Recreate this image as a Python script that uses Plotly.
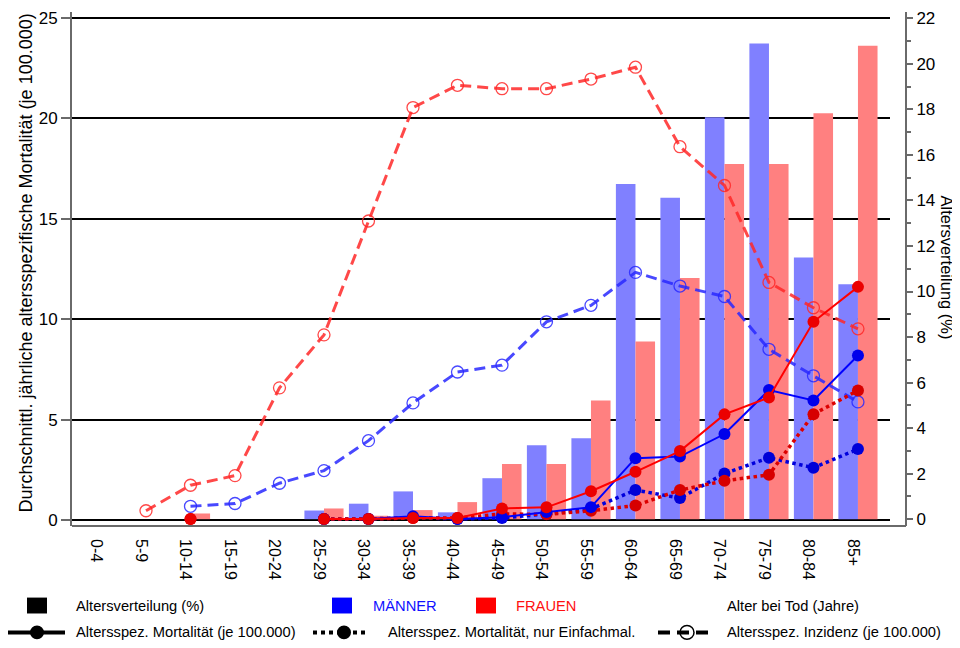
import plotly.graph_objects as go

categories = ["0-4", "5-9", "10-14", "15-19", "20-24", "25-29", "30-34", "35-39", "40-44",
              "45-49", "50-54", "55-59", "60-64", "65-69", "70-74", "75-79", "80-84", "85+"]

# Altersverteilung (%)
verteilung_m = [None, None, None, None, None, 0.38, 0.68, 1.22, 0.3, 1.8, 3.25, 3.55,
                14.72, 14.12, 17.66, 20.9, 11.5, 10.32]
verteilung_f = [None, None, 0.25, None, None, 0.47, 0.15, 0.4, 0.75, 2.42, 2.42, 5.21,
                7.81, 10.6, 15.6, 15.6, 17.83, 20.8]

# Altersspez. Mortalität (je 100.000)
mort_m = [None, None, None, None, None, 0.05, 0.05, 0.18, 0.05, 0.14, 0.4, 0.64,
          3.08, 3.16, 4.28, 6.47, 5.95, 8.19]
mort_f = [None, None, 0.05, None, None, 0.05, 0.05, 0.1, 0.1, 0.57, 0.63, 1.43,
          2.4, 3.43, 5.26, 6.1, 9.87, 11.61]

# Altersspez. Mortalität, nur Einfachmal.
mort_einf_m = [None, None, None, None, None, 0.05, 0.05, 0.12, 0.05, 0.1, 0.3, 0.55,
               1.49, 1.09, 2.31, 3.1, 2.6, 3.53]
mort_einf_f = [None, None, 0.05, None, None, 0.05, 0.05, 0.1, 0.1, 0.3, 0.28, 0.46,
               0.72, 1.49, 1.95, 2.25, 5.27, 6.45]

# Altersspez. Inzidenz (je 100.000)
inz_m = [None, None, 0.68, 0.82, 1.83, 2.46, 3.95, 5.83, 7.37, 7.71, 9.87, 10.69,
         12.33, 11.65, 11.13, 8.5, 7.18, 5.88]
inz_f = [None, 0.46, 1.73, 2.21, 6.58, 9.22, 14.89, 20.54, 21.65, 21.48, 21.48, 21.96,
         22.55, 18.59, 16.66, 11.83, 10.57, 9.52]

FONT = "Arial, 'Liberation Sans', sans-serif"
AXIS_GREY = "#6a6a6a"

fig = go.Figure()

# bars on the base axis (right, %)
fig.add_trace(go.Bar(x=categories, y=verteilung_m, marker=dict(color="#8080FF", line=dict(width=0)),
                     yaxis="y", name="Männer %", showlegend=False))
fig.add_trace(go.Bar(x=categories, y=verteilung_f, marker=dict(color="#FF8080", line=dict(width=0)),
                     yaxis="y", name="Frauen %", showlegend=False))

# incidence (dashed, open circles)
fig.add_trace(go.Scatter(x=categories, y=inz_m, yaxis="y2", mode="lines+markers",
                         line=dict(color="rgba(40,40,255,0.85)", width=3, dash="11px,6px"),
                         marker=dict(symbol="circle-open", size=12, color="rgba(40,40,255,0.85)",
                                     line=dict(width=1.3)),
                         showlegend=False))
fig.add_trace(go.Scatter(x=categories, y=inz_f, yaxis="y2", mode="lines+markers",
                         line=dict(color="rgba(255,40,40,0.85)", width=3, dash="11px,6px"),
                         marker=dict(symbol="circle-open", size=12, color="rgba(255,40,40,0.85)",
                                     line=dict(width=1.3)),
                         showlegend=False))

# mortality single (dotted)
fig.add_trace(go.Scatter(x=categories, y=mort_einf_m, yaxis="y2", mode="lines+markers",
                         line=dict(color="rgb(0,0,220)", width=3.5, dash="dot"),
                         marker=dict(size=12, color="rgb(0,0,215)"), showlegend=False))
fig.add_trace(go.Scatter(x=categories, y=mort_einf_f, yaxis="y2", mode="lines+markers",
                         line=dict(color="rgb(220,0,0)", width=3.5, dash="dot"),
                         marker=dict(size=12, color="rgb(215,0,0)"), showlegend=False))

# mortality (solid)
fig.add_trace(go.Scatter(x=categories, y=mort_m, yaxis="y2", mode="lines+markers",
                         line=dict(color="rgb(0,0,255)", width=2),
                         marker=dict(size=12, color="rgb(0,0,235)"), showlegend=False))
fig.add_trace(go.Scatter(x=categories, y=mort_f, yaxis="y2", mode="lines+markers",
                         line=dict(color="rgb(255,0,0)", width=2),
                         marker=dict(size=12, color="rgb(235,0,0)"), showlegend=False))

# page has an 8px body margin: figure origin sits at (8, 8) of the page
OFF = 8
W, H = 960 - OFF, 648 - OFF
# plot area in page pixels
L, R, T, B = 72, 906, 9, 526
def px(x):
    return (x - L) / (R - L)
def py(y):
    return (B - y) / (B - T)

shapes = []
# bottom axis line across whole paper
shapes.append(dict(type="line", xref="paper", yref="paper", x0=0, x1=1, y0=0, y1=0,
                   line=dict(color=AXIS_GREY, width=2)))

# legend symbols
row1, row2 = 606, 633
for x0, col in [(27, "black"), (332, "#0000FF"), (476, "#FF0000")]:
    shapes.append(dict(type="rect", xref="paper", yref="paper", x0=px(x0), x1=px(x0 + 20),
                       y0=py(row1 + 8), y1=py(row1 - 8), line=dict(width=0), fillcolor=col))

def circ(cx, cy, r, fill, lw):
    return dict(type="circle", xref="paper", yref="paper", x0=px(cx - r), x1=px(cx + r),
                y0=py(cy + r), y1=py(cy - r), fillcolor=fill, line=dict(color="black", width=lw))

shapes.append(dict(type="line", xref="paper", yref="paper", x0=px(8), x1=px(65), y0=py(row2), y1=py(row2),
                   line=dict(color="black", width=4)))
shapes.append(circ(37, row2, 7, "black", 0))
shapes.append(dict(type="line", xref="paper", yref="paper", x0=px(313), x1=px(369), y0=py(row2), y1=py(row2),
                   line=dict(color="black", width=4, dash="4px,4px")))
shapes.append(circ(344, row2, 7, "black", 0))
shapes.append(dict(type="line", xref="paper", yref="paper", x0=px(658), x1=px(715), y0=py(row2), y1=py(row2),
                   line=dict(color="black", width=4, dash="12px,7px")))
shapes.append(circ(687, row2, 7, "rgba(255,255,255,0)", 1.5))

def ann(x, y, text, color="black", size=14.7, **kw):
    d = dict(xref="paper", yref="paper", x=px(x), y=py(y), text=text, showarrow=False,
             xanchor="left", yanchor="middle", font=dict(family=FONT, size=size, color=color))
    d.update(kw)
    return d

annotations = [
    ann(74, row1, "Altersverteilung (%)"),
    ann(371, row1, "MÄNNER", color="#1010FF"),
    ann(514, row1, "FRAUEN", color="#FF1010"),
    ann(725, row1, "Alter bei Tod (Jahre)"),
    ann(74, row2, "Altersspez. Mortalität (je 100.000)"),
    ann(386, row2, "Altersspez. Mortalität, nur Einfachmal."),
    ann(725, row2, "Altersspez. Inzidenz (je 100.000)"),
    dict(xref="paper", yref="paper", x=px(26), y=py(262), showarrow=False, textangle=-90,
         xanchor="center", yanchor="middle",
         text="Durchschnittl. jährliche altersspezifische Mortalität (je 100.000)",
         font=dict(family=FONT, size=18, color="black")),
    dict(xref="paper", yref="paper", x=px(947), y=py(266), showarrow=False, textangle=90,
         xanchor="center", yanchor="middle", text="Altersverteilung (%)",
         font=dict(family=FONT, size=16.5, color="black")),
]

fig.update_layout(
    width=W, height=H,
    margin=dict(l=L - OFF, r=W - (R - OFF), t=T - OFF, b=H - (B - OFF), pad=0),
    paper_bgcolor="white", plot_bgcolor="white",
    font=dict(family=FONT, size=16, color="black"),
    barmode="group", bargap=0.12, bargroupgap=0,
    showlegend=False,
    xaxis=dict(domain=[0, px(890)], type="category", range=[-0.663, 17.72],
               showline=False, showgrid=False, zeroline=False, ticks="",
               tickangle=90, tickfont=dict(size=16, family=FONT), anchor="y",
               ticklabelshift=-5, ticklabelstandoff=12),
    yaxis=dict(side="right", anchor="free", position=1, range=[-0.3, 22.28],
               tickvals=list(range(0, 23, 2)), showgrid=False, zeroline=False,
               showline=True, linecolor=AXIS_GREY, linewidth=2,
               ticks="outside", ticklen=6, tickwidth=1.5, tickcolor=AXIS_GREY,
               minor=dict(dtick=1, ticks="outside", ticklen=4, tickcolor=AXIS_GREY, tickwidth=1.5),
               tickfont=dict(size=17, family=FONT), ticklabeloverflow="allow"),
    yaxis2=dict(overlaying="y", side="left", anchor="x", range=[-0.3, 25.3],
                tickvals=[0, 5, 10, 15, 20, 25], showgrid=True, gridcolor="black", gridwidth=1.5,
                zeroline=False, showline=True, linecolor=AXIS_GREY, linewidth=2,
                ticks="outside", ticklen=9, tickwidth=1.5, tickcolor=AXIS_GREY,
                tickfont=dict(size=17, family=FONT), ticklabeloverflow="allow"),
    shapes=shapes,
    annotations=annotations,
)

fig.write_html("out.html")
